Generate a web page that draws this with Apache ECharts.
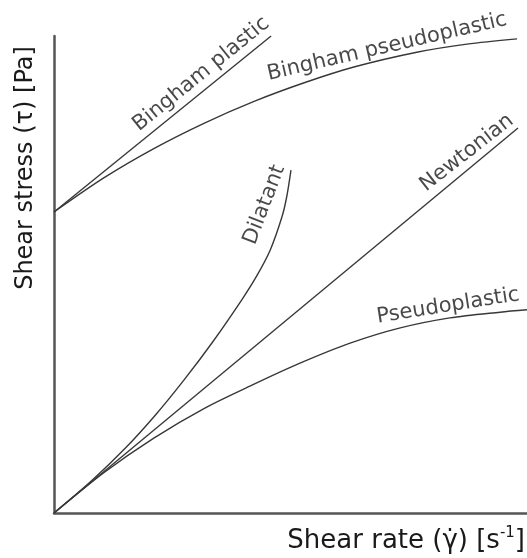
<!DOCTYPE html>
<html>
<head>
<meta charset="utf-8">
<script src="https://cdn.jsdelivr.net/npm/echarts@6/dist/echarts.min.js"></script>
<style>
html,body{margin:0;padding:0;background:#fff;}
#chart{width:527px;height:558px;}
</style>
</head>
<body>
<div id="chart"></div>
<script>
// Shear rate (x) and shear stress (y), arbitrary units 0..100
var binghamPlasticX = [0, 45.9];
var binghamPlasticY = [63.1, 100];

var binghamPseudoX = [0, 10.6, 21.1, 31.7, 42.3, 52.9, 63.4, 76.7, 87.3, 97.9];
var binghamPseudoY = [63.1, 70.3, 76.4, 81.7, 86.3, 90.2, 93.5, 96.6, 98.3, 99.4];

var dilatantX = [0, 8, 15, 21.5, 27.5, 33.5, 39.7, 42.8, 45.7, 48.2, 49.2, 50.1];
var dilatantY = [0, 6.8, 13.5, 20.6, 27.9, 35.8, 44.7, 49.6, 55.1, 62.1, 66.3, 71.9];

var newtonianX = [0, 98.1];
var newtonianY = [0, 80.7];

var pseudoX = [0, 10.6, 21.1, 31.7, 42.3, 52.0, 62.6, 73.2, 83.7, 94.3, 100];
var pseudoY = [0, 8.5, 15.7, 21.9, 27.0, 31.4, 35.6, 38.8, 40.9, 42.1, 42.6];

// Curve label texts
var labelNames = ['Bingham plastic', 'Bingham pseudoplastic', 'Dilatant', 'Newtonian', 'Pseudoplastic'];
// Label anchor positions (data coords) and rotation
var labelX = [31.1, 70.4, 44.5, 87.3, 83.3];
var labelY = [92.0, 97.7, 64.6, 75.5, 43.4];
var labelRot = [39, 13, 69, 38, 9];

var xTitle = 'Shear rate (γ̇) [s';
var xTitleSup = '-1';
var yTitle = 'Shear stress (τ) [Pa]';

function pairs(xs, ys) { return xs.map(function (x, i) { return [x, ys[i]]; }); }

var FONT = 'DejaVu Sans';
var lineStyle = { color: '#383838', width: 1.4 };

function curve(name, xs, ys, smooth) {
  return {
    type: 'line', name: name, data: pairs(xs, ys),
    showSymbol: false, symbol: 'none', smooth: smooth ? 0.3 : false,
    lineStyle: lineStyle, silent: true
  };
}

var labelData = labelNames.map(function (n, i) {
  return {
    name: n, value: [labelX[i], labelY[i]],
    label: { rotate: labelRot[i] }
  };
});

var chart = echarts.init(document.getElementById('chart'), null, { renderer: 'canvas' });
chart.setOption({
  animation: false,
  backgroundColor: '#fff',
  grid: { left: 54, right: 0, top: 36, bottom: 45 },
  xAxis: {
    type: 'value', min: 0, max: 100,
    axisLine: { show: true, lineStyle: { color: '#555', width: 2.5 } },
    axisTick: { show: false }, axisLabel: { show: false }, splitLine: { show: false }
  },
  yAxis: {
    type: 'value', min: 0, max: 100,
    axisLine: { show: true, lineStyle: { color: '#555', width: 2.5 } },
    axisTick: { show: false }, axisLabel: { show: false }, splitLine: { show: false }
  },
  series: [
    curve('Bingham plastic', binghamPlasticX, binghamPlasticY, false),
    curve('Bingham pseudoplastic', binghamPseudoX, binghamPseudoY, true),
    curve('Dilatant', dilatantX, dilatantY, true),
    curve('Newtonian', newtonianX, newtonianY, false),
    curve('Pseudoplastic', pseudoX, pseudoY, true),
    {
      type: 'scatter', name: 'labels', data: labelData, symbolSize: 0, silent: true,
      label: {
        show: true, position: 'inside', formatter: '{b}',
        fontFamily: FONT, fontSize: 21, color: '#1a1a1a',
        align: 'center', verticalAlign: 'middle'
      }
    }
  ],
  graphic: [
    {
      type: 'text', x: 26, y: 168, rotation: Math.PI / 2,
      style: {
        text: yTitle, font: '24px "DejaVu Sans"', fill: '#1a1a1a',
        textAlign: 'center', textVerticalAlign: 'middle'
      }
    },
    {
      type: 'text', x: 525, y: 541,
      style: {
        text: '{a|' + xTitle + '}{s|' + xTitleSup + '}{a|]}',
        textAlign: 'right', textVerticalAlign: 'middle', fill: '#1a1a1a',
        rich: {
          a: { fontFamily: FONT, fontSize: 26, lineHeight: 30, fill: '#1a1a1a' },
          s: { fontFamily: FONT, fontSize: 15, lineHeight: 30, verticalAlign: 'top', fill: '#1a1a1a' }
        }
      }
    }
  ]
});
</script>
</body>
</html>
